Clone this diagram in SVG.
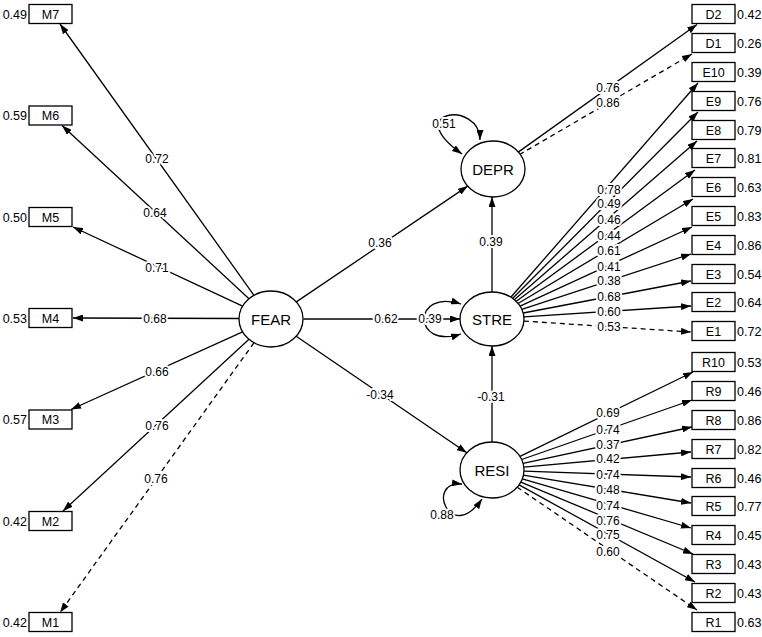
<svg xmlns="http://www.w3.org/2000/svg" width="762" height="637" viewBox="0 0 762 637">
<defs>
<marker id="ah" viewBox="0 0 10 7" markerWidth="10" markerHeight="7" refX="10" refY="3.5" orient="auto-start-reverse" markerUnits="userSpaceOnUse"><path d="M0,0 L10,3.5 L0,7 z" fill="#000"/></marker>
</defs>
<style>
.bx{fill:#fff;stroke:#000;stroke-width:1.3}
.el{fill:#fff;stroke:#000;stroke-width:1.3}
.bt{font-family:"Liberation Sans",Arial,sans-serif;font-size:12.5px;text-anchor:middle;fill:#000}
.et{font-family:"Liberation Sans",Arial,sans-serif;font-size:15px;text-anchor:middle;fill:#000}
.vl{font-family:"Liberation Sans",Arial,sans-serif;font-size:12.5px;fill:#000}
.vr{font-family:"Liberation Sans",Arial,sans-serif;font-size:12.5px;fill:#000;text-anchor:end}
.ln{fill:none;stroke:#000;stroke-width:1.3;marker-end:url(#ah)}
.dl{fill:none;stroke:#000;stroke-width:1.3;stroke-dasharray:5,4;marker-end:url(#ah)}
.lp{fill:none;stroke:#000;stroke-width:1.3;marker-start:url(#ah);marker-end:url(#ah)}
.lb{font-family:"Liberation Sans",Arial,sans-serif;font-size:12px;text-anchor:middle;fill:#000;stroke:#fff;stroke-width:4;paint-order:stroke;stroke-linejoin:round}
</style>
<rect width="762" height="637" fill="#fff"/>
<g id="connectors">
<line class="ln" x1="254" y1="295.3" x2="60" y2="24"/>
<line class="ln" x1="249" y1="298.7" x2="62" y2="125.5"/>
<line class="ln" x1="242.6" y1="306.1" x2="73" y2="227"/>
<line class="ln" x1="239" y1="318.5" x2="73" y2="318"/>
<line class="ln" x1="242.6" y1="331.9" x2="71" y2="409.5"/>
<line class="ln" x1="249" y1="339.3" x2="63" y2="511"/>
<line class="dl" x1="254" y1="342.7" x2="60" y2="612.5"/>
<line class="ln" x1="296.3" y1="301.9" x2="467.7" y2="186.1"/>
<line class="ln" x1="303.5" y1="319" x2="460" y2="319"/>
<line class="ln" x1="296.2" y1="336.2" x2="466.8" y2="452.8"/>
<line class="ln" x1="492" y1="292" x2="492" y2="197"/>
<line class="ln" x1="492" y1="442" x2="492" y2="346"/>
<line class="ln" x1="517.5" y1="152.6" x2="697" y2="24.5"/>
<line class="dl" x1="519.3" y1="154.7" x2="692" y2="54"/>
<line class="ln" x1="511" y1="297" x2="698" y2="83"/>
<line class="ln" x1="512.5" y1="298.5" x2="698" y2="112"/>
<line class="ln" x1="514" y1="300" x2="697" y2="141"/>
<line class="ln" x1="516" y1="301.5" x2="695" y2="170"/>
<line class="ln" x1="518" y1="303.5" x2="693" y2="199"/>
<line class="ln" x1="520.1" y1="306.1" x2="692" y2="227"/>
<line class="ln" x1="521.8" y1="309.3" x2="691" y2="254"/>
<line class="ln" x1="523.2" y1="313" x2="691" y2="281"/>
<line class="ln" x1="523.9" y1="316.9" x2="691" y2="306"/>
<line class="dl" x1="523.9" y1="321.1" x2="691" y2="332"/>
<line class="ln" x1="520" y1="456.4" x2="693" y2="372"/>
<line class="ln" x1="521.7" y1="459.5" x2="692" y2="400"/>
<line class="ln" x1="523.1" y1="463.3" x2="692" y2="427"/>
<line class="ln" x1="523.8" y1="467.1" x2="691" y2="452"/>
<line class="ln" x1="524" y1="471.1" x2="691" y2="477"/>
<line class="ln" x1="523.4" y1="475.2" x2="691" y2="503"/>
<line class="ln" x1="522.3" y1="478.9" x2="691" y2="528"/>
<line class="ln" x1="520.9" y1="482.1" x2="693" y2="554"/>
<line class="ln" x1="519.1" y1="484.9" x2="695" y2="582"/>
<line class="dl" x1="517.2" y1="487.2" x2="697" y2="610"/>
<path class="lp" d="M461,304 C412,288 412,350 461,334"/>
<path class="lp" d="M480,140 C480,100 400,110 462,154"/>
<path class="lp" d="M462,484 C425,480 450,545 482,499"/>
<text class="lb" x="157" y="163">0.72</text>
<text class="lb" x="155" y="217">0.64</text>
<text class="lb" x="157" y="272">0.71</text>
<text class="lb" x="155" y="323">0.68</text>
<text class="lb" x="157" y="376">0.66</text>
<text class="lb" x="157" y="430">0.76</text>
<text class="lb" x="156" y="483">0.76</text>
<text class="lb" x="380" y="247">0.36</text>
<text class="lb" x="386" y="323">0.62</text>
<text class="lb" x="430" y="323">0.39</text>
<text class="lb" x="380" y="399">-0.34</text>
<text class="lb" x="491" y="246">0.39</text>
<text class="lb" x="491" y="401">-0.31</text>
<text class="lb" x="444" y="128">0.51</text>
<text class="lb" x="442" y="519">0.88</text>
<text class="lb" x="608" y="92">0.76</text>
<text class="lb" x="608" y="107">0.86</text>
<text class="lb" x="609" y="194">0.78</text>
<text class="lb" x="609" y="208">0.49</text>
<text class="lb" x="609" y="224">0.46</text>
<text class="lb" x="609" y="240">0.44</text>
<text class="lb" x="609" y="255">0.61</text>
<text class="lb" x="609" y="271">0.41</text>
<text class="lb" x="609" y="285">0.38</text>
<text class="lb" x="609" y="301">0.68</text>
<text class="lb" x="609" y="316">0.60</text>
<text class="lb" x="609" y="331">0.53</text>
<text class="lb" x="608" y="417">0.69</text>
<text class="lb" x="608" y="434">0.74</text>
<text class="lb" x="608" y="449">0.37</text>
<text class="lb" x="608" y="463">0.42</text>
<text class="lb" x="608" y="479">0.74</text>
<text class="lb" x="608" y="494">0.48</text>
<text class="lb" x="608" y="510">0.74</text>
<text class="lb" x="608" y="525">0.76</text>
<text class="lb" x="608" y="539">0.75</text>
<text class="lb" x="608" y="556">0.60</text>
</g>
<g id="FEAR"><ellipse class="el" cx="271" cy="319" rx="32" ry="28"/><text class="et" x="271" y="324.5">FEAR</text></g>
<g id="DEPR"><ellipse class="el" cx="493" cy="169" rx="32" ry="28"/><text class="et" x="493" y="174.5">DEPR</text></g>
<g id="STRE"><ellipse class="el" cx="492" cy="319" rx="32" ry="27"/><text class="et" x="492" y="324.5">STRE</text></g>
<g id="RESI"><ellipse class="el" cx="492" cy="470" rx="32" ry="28"/><text class="et" x="492" y="475.5">RESI</text></g>
<g id="M7"><rect class="bx" x="29" y="4.5" width="43" height="19"/><text class="bt" x="50.5" y="18.5">M7</text><text class="vr" x="27" y="18.5">0.49</text></g>
<g id="M6"><rect class="bx" x="29" y="106" width="43" height="19"/><text class="bt" x="50.5" y="120">M6</text><text class="vr" x="27" y="120">0.59</text></g>
<g id="M5"><rect class="bx" x="29" y="207.5" width="43" height="19"/><text class="bt" x="50.5" y="221.5">M5</text><text class="vr" x="27" y="221.5">0.50</text></g>
<g id="M4"><rect class="bx" x="29" y="308.5" width="43" height="19"/><text class="bt" x="50.5" y="322.5">M4</text><text class="vr" x="27" y="322.5">0.53</text></g>
<g id="M3"><rect class="bx" x="29" y="410" width="43" height="19"/><text class="bt" x="50.5" y="424">M3</text><text class="vr" x="27" y="424">0.57</text></g>
<g id="M2"><rect class="bx" x="29" y="511.5" width="43" height="19"/><text class="bt" x="50.5" y="525.5">M2</text><text class="vr" x="27" y="525.5">0.42</text></g>
<g id="M1"><rect class="bx" x="29" y="612.5" width="43" height="19"/><text class="bt" x="50.5" y="626.5">M1</text><text class="vr" x="27" y="626.5">0.42</text></g>
<g id="D2"><rect class="bx" x="692" y="4.5" width="43" height="19"/><text class="bt" x="713.5" y="18.5">D2</text><text class="vl" x="737" y="18.5">0.42</text></g>
<g id="D1"><rect class="bx" x="692" y="33.5" width="43" height="19"/><text class="bt" x="713.5" y="47.5">D1</text><text class="vl" x="737" y="47.5">0.26</text></g>
<g id="E10"><rect class="bx" x="692" y="62.5" width="43" height="19"/><text class="bt" x="713.5" y="76.5">E10</text><text class="vl" x="737" y="76.5">0.39</text></g>
<g id="E9"><rect class="bx" x="692" y="91.5" width="43" height="19"/><text class="bt" x="713.5" y="105.5">E9</text><text class="vl" x="737" y="105.5">0.76</text></g>
<g id="E8"><rect class="bx" x="692" y="120.5" width="43" height="19"/><text class="bt" x="713.5" y="134.5">E8</text><text class="vl" x="737" y="134.5">0.79</text></g>
<g id="E7"><rect class="bx" x="692" y="148.5" width="43" height="19"/><text class="bt" x="713.5" y="162.5">E7</text><text class="vl" x="737" y="162.5">0.81</text></g>
<g id="E6"><rect class="bx" x="692" y="177.5" width="43" height="19"/><text class="bt" x="713.5" y="191.5">E6</text><text class="vl" x="737" y="191.5">0.63</text></g>
<g id="E5"><rect class="bx" x="692" y="206.5" width="43" height="19"/><text class="bt" x="713.5" y="220.5">E5</text><text class="vl" x="737" y="220.5">0.83</text></g>
<g id="E4"><rect class="bx" x="692" y="235.5" width="43" height="19"/><text class="bt" x="713.5" y="249.5">E4</text><text class="vl" x="737" y="249.5">0.86</text></g>
<g id="E3"><rect class="bx" x="692" y="264.5" width="43" height="19"/><text class="bt" x="713.5" y="278.5">E3</text><text class="vl" x="737" y="278.5">0.54</text></g>
<g id="E2"><rect class="bx" x="692" y="292.5" width="43" height="19"/><text class="bt" x="713.5" y="306.5">E2</text><text class="vl" x="737" y="306.5">0.64</text></g>
<g id="E1"><rect class="bx" x="692" y="321.5" width="43" height="19"/><text class="bt" x="713.5" y="335.5">E1</text><text class="vl" x="737" y="335.5">0.72</text></g>
<g id="R10"><rect class="bx" x="692" y="352.5" width="43" height="19"/><text class="bt" x="713.5" y="366.5">R10</text><text class="vl" x="737" y="366.5">0.53</text></g>
<g id="R9"><rect class="bx" x="692" y="381.5" width="43" height="19"/><text class="bt" x="713.5" y="395.5">R9</text><text class="vl" x="737" y="395.5">0.46</text></g>
<g id="R8"><rect class="bx" x="692" y="410.5" width="43" height="19"/><text class="bt" x="713.5" y="424.5">R8</text><text class="vl" x="737" y="424.5">0.86</text></g>
<g id="R7"><rect class="bx" x="692" y="439.5" width="43" height="19"/><text class="bt" x="713.5" y="453.5">R7</text><text class="vl" x="737" y="453.5">0.82</text></g>
<g id="R6"><rect class="bx" x="692" y="468.5" width="43" height="19"/><text class="bt" x="713.5" y="482.5">R6</text><text class="vl" x="737" y="482.5">0.46</text></g>
<g id="R5"><rect class="bx" x="692" y="496.5" width="43" height="19"/><text class="bt" x="713.5" y="510.5">R5</text><text class="vl" x="737" y="510.5">0.77</text></g>
<g id="R4"><rect class="bx" x="692" y="525.5" width="43" height="19"/><text class="bt" x="713.5" y="539.5">R4</text><text class="vl" x="737" y="539.5">0.45</text></g>
<g id="R3"><rect class="bx" x="692" y="554.5" width="43" height="19"/><text class="bt" x="713.5" y="568.5">R3</text><text class="vl" x="737" y="568.5">0.43</text></g>
<g id="R2"><rect class="bx" x="692" y="583.5" width="43" height="19"/><text class="bt" x="713.5" y="597.5">R2</text><text class="vl" x="737" y="597.5">0.43</text></g>
<g id="R1"><rect class="bx" x="692" y="612.5" width="43" height="19"/><text class="bt" x="713.5" y="626.5">R1</text><text class="vl" x="737" y="626.5">0.63</text></g>
</svg>
